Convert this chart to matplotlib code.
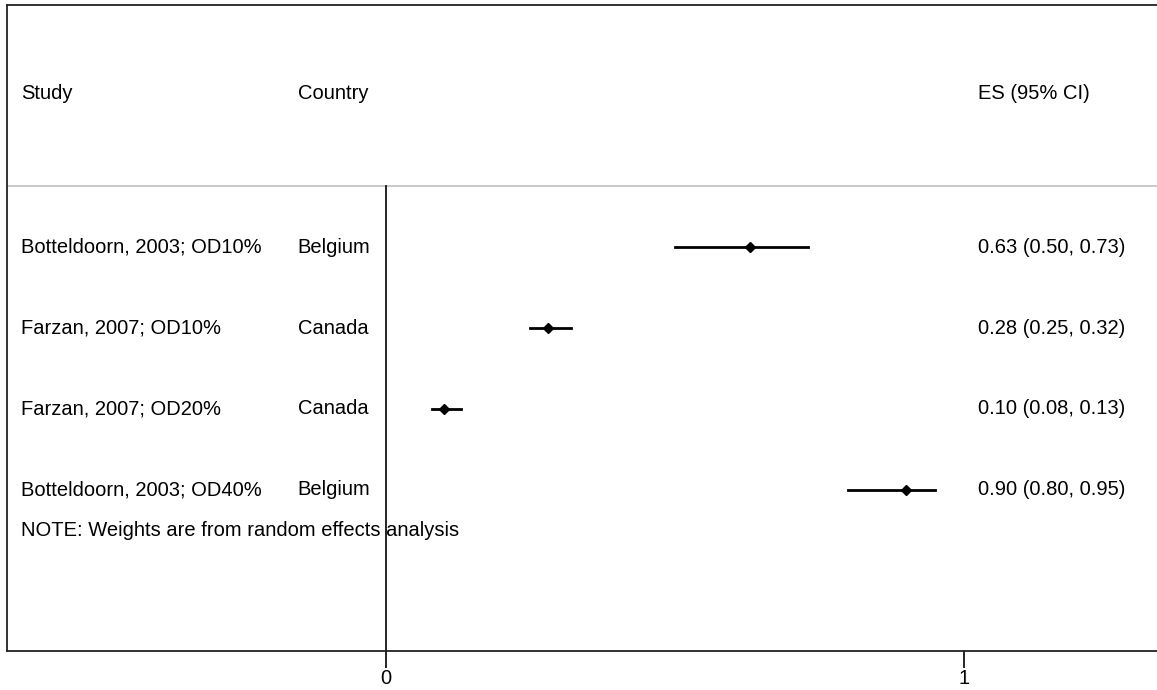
import matplotlib
matplotlib.use('Agg')
from matplotlib import pyplot as plt

plt.rcParams['font.family'] = ['Liberation Sans', 'DejaVu Sans']

# study rows
studies = ['Botteldoorn, 2003; OD10%', 'Farzan, 2007; OD10%',
           'Farzan, 2007; OD20%', 'Botteldoorn, 2003; OD40%']
countries = ['Belgium', 'Canada', 'Canada', 'Belgium']
es = [0.63, 0.28, 0.10, 0.90]
ci_low = [0.50, 0.25, 0.08, 0.80]
ci_high = [0.73, 0.32, 0.13, 0.95]

fs = 14.5
fig = plt.figure(figsize=(11.57, 6.90), dpi=100)
ax = fig.add_axes([7 / 1157, 1 - 651 / 690, 1 - 7 / 1157, 646 / 690])
ax.set_xlim(-0.6557, 1.3339)
ax.set_ylim(4.99, -2.99)

rows = list(range(len(studies)))
x_study, x_country, x_es = -0.631, -0.153, 1.025

# header
ax.text(x_study, -1.9, 'Study', fontsize=fs, va='center')
ax.text(x_country, -1.9, 'Country', fontsize=fs, va='center')
ax.text(x_es, -1.9, 'ES (95% CI)', fontsize=fs, va='center')
ax.axhline(-0.75, color='#c0c0c0', lw=1.2)

# null line
ax.plot([0, 0], [-0.75, 4.99], color='black', lw=1.2)

for i in rows:
    ax.plot([ci_low[i], ci_high[i]], [i, i], color='black', lw=2)
    ax.plot(es[i], i, marker='D', color='black', ms=5)
    ax.text(x_study, i, studies[i], fontsize=fs, va='center')
    ax.text(x_country, i, countries[i], fontsize=fs, va='center')
    ax.text(x_es, i, '%.2f (%.2f, %.2f)' % (es[i], ci_low[i], ci_high[i]),
            fontsize=fs, va='center')

ax.text(x_study, 3.5, 'NOTE: Weights are from random effects analysis',
        fontsize=fs, va='center')

ax.set_yticks([])
ax.set_xticks([0, 1])
ax.set_xticklabels(['0', '1'], fontsize=fs)
ax.tick_params(axis='x', length=12, width=1.2, pad=1)
ax.spines['right'].set_visible(False)
for s in ['left', 'top', 'bottom']:
    ax.spines[s].set_linewidth(1.3)
    ax.spines[s].set_color('#222222')

fig.savefig('out.png', dpi=100)
